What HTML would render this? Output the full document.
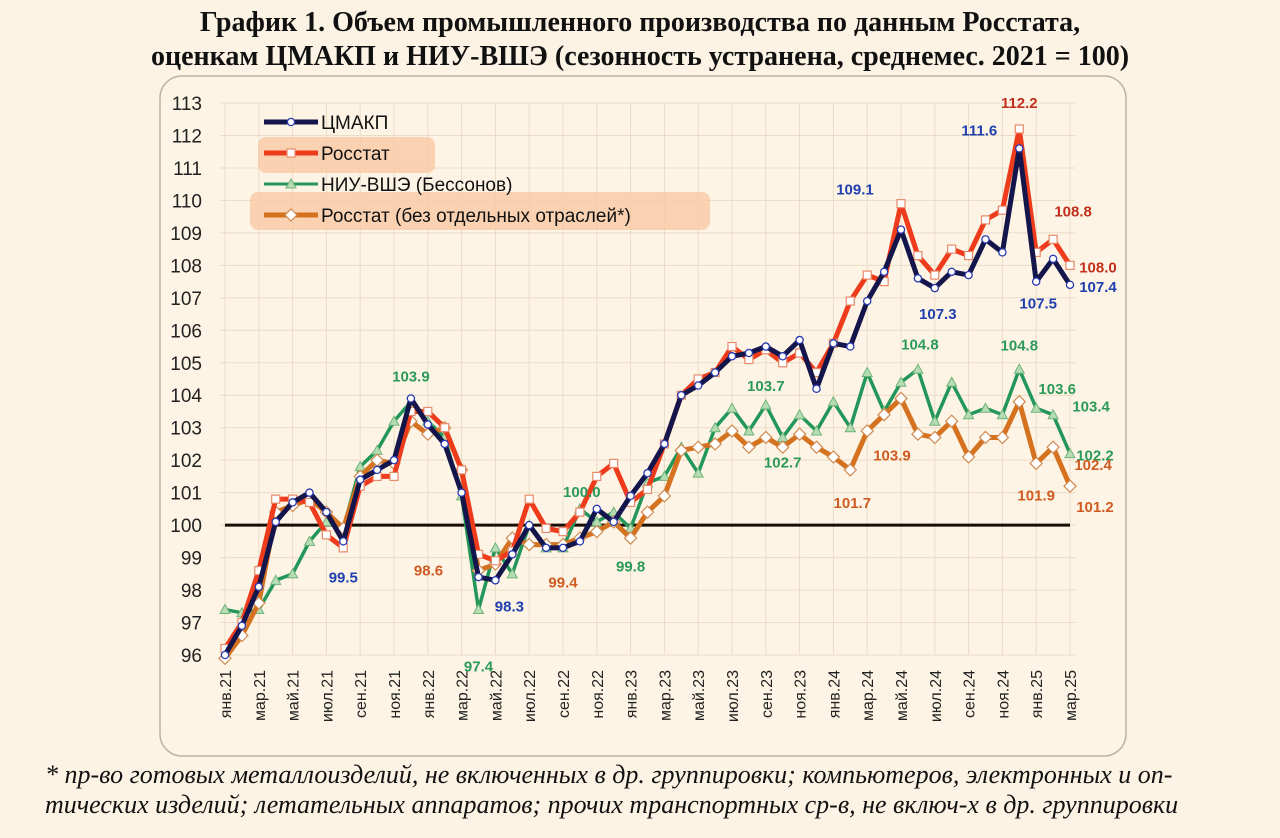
<!DOCTYPE html>
<html><head><meta charset="utf-8">
<style>
body{margin:0;background:#fcf3e4;width:1280px;height:838px;overflow:hidden;font-family:"Liberation Sans",sans-serif;}
.title{position:absolute;left:0;top:6px;width:1280px;text-align:center;font-family:"Liberation Serif",serif;font-weight:bold;font-size:28px;line-height:34px;color:#111;white-space:nowrap;}
.foot{position:absolute;left:45px;top:760px;width:1235px;font-family:"Liberation Serif",serif;font-style:italic;font-size:26px;line-height:30px;color:#111;white-space:nowrap;}
svg{position:absolute;left:0;top:0;}
</style></head><body>
<div class="title">График 1. Объем промышленного производства по данным Росстата,<br>оценкам ЦМАКП и НИУ-ВШЭ (сезонность устранена, среднемес. 2021 = 100)</div>
<svg id="chart" width="1280" height="838"></svg>
<div class="foot">* пр-во готовых металлоизделий, не включенных в др. группировки; компьютеров, электронных и оп-<br>тических изделий; летательных аппаратов; прочих транспортных ср-в, не включ-х в др. группировки</div>
<script>
const months=["янв","фев","мар","апр","май","июн","июл","авг","сен","окт","ноя","дек"];
const categories=[];for(let y=21;y<=25;y++)for(let m=0;m<12;m++){if(y===25&&m>2)break;categories.push(months[m]+"."+y);}
const cmakp=[96.0,96.9,98.1,100.1,100.7,101.0,100.4,99.5,101.4,101.7,102.0,103.9,103.1,102.5,101.0,98.4,98.3,99.1,100.0,99.3,99.3,99.5,100.5,100.1,100.9,101.6,102.5,104.0,104.3,104.7,105.2,105.3,105.5,105.2,105.7,104.2,105.6,105.5,106.9,107.8,109.1,107.6,107.3,107.8,107.7,108.8,108.4,111.6,107.5,108.2,107.4];
const rosstat=[96.2,97.0,98.6,100.8,100.8,100.7,99.7,99.3,101.2,101.5,101.5,103.5,103.5,103.0,101.7,99.1,98.9,99.2,100.8,99.9,99.8,100.4,101.5,101.9,100.7,101.1,102.5,104.0,104.5,104.7,105.5,105.1,105.4,105.0,105.3,104.7,105.6,106.9,107.7,107.5,109.9,108.3,107.7,108.5,108.3,109.4,109.7,112.2,108.4,108.8,108.0];
const hse=[97.4,97.3,97.4,98.3,98.5,99.5,100.1,99.9,101.8,102.3,103.2,103.8,103.2,102.7,100.9,97.4,99.3,98.5,100.0,99.3,99.3,100.5,100.1,100.4,99.9,101.3,101.5,102.4,101.6,103.0,103.6,102.9,103.7,102.7,103.4,102.9,103.8,103.0,104.7,103.5,104.4,104.8,103.2,104.4,103.4,103.6,103.4,104.8,103.6,103.4,102.2];
const rosstatEx=[95.9,96.6,97.6,100.4,100.6,100.8,100.4,99.9,101.5,102.0,101.9,103.2,102.8,103.0,101.7,98.6,98.8,99.6,99.4,99.4,99.4,99.6,99.8,100.1,99.6,100.4,100.9,102.3,102.4,102.5,102.9,102.4,102.7,102.4,102.8,102.4,102.1,101.7,102.9,103.4,103.9,102.8,102.7,103.2,102.1,102.7,102.7,103.8,101.9,102.4,101.2];
const yTicks=[96,97,98,99,100,101,102,103,104,105,106,107,108,109,110,111,112,113];
// annotations: series, index, text, dx, dy
const annSeries=["cmakp","cmakp","cmakp","cmakp","cmakp","cmakp","cmakp","rosstat","rosstat","rosstat","hse","hse","hse","hse","hse","hse","hse","hse","hse","hse","hse","ex","ex","ex","ex","ex","ex","ex"];
const annIndex=[7,16,40,42,47,48,50,47,49,50,11,15,22,24,32,33,41,47,48,49,50,15,20,37,40,48,49,50];
const annText=["99.5","98.3","109.1","107.3","111.6","107.5","107.4","112.2","108.8","108.0","103.9","97.4","100.0","99.8","103.7","102.7","104.8","104.8","103.6","103.4","102.2","98.6","99.4","101.7","103.9","101.9","102.4","101.2"];
const annDx=[0,14,-46,3,-40,2,28,0,20,28,0,0,-15,0,0,0,2,0,21,38,25,-50,0,2,-9,0,40,25];
const annDy=[41,31,-35,31,-13,27,7,-21,-23,7,-20,62,-25,43,-14,30,-20,-19,-14,-3,7,5,43,38,62,37,23,26];

const svg=document.getElementById('chart');const NS="http://www.w3.org/2000/svg";
const X0=225,X1=1070,Y0=655,Y1=103,VMIN=96,VMAX=113;
const xs=i=>X0+(X1-X0)*i/(categories.length-1);
const ys=v=>Y0-(v-VMIN)*(Y0-Y1)/(VMAX-VMIN);
function el(t,a,p){const e=document.createElementNS(NS,t);for(const k in a)e.setAttribute(k,a[k]);(p||svg).appendChild(e);return e;}
const frame=el('rect',{x:160,y:76,width:966,height:680,rx:22,fill:'#fdf4e5',stroke:'#bfb4a4','stroke-width':1.5});


const grid=el('g',{stroke:'#eadcc6','stroke-width':1});


yTicks.forEach(v=>{el('line',{x1:X0-5,x2:X1+5,y1:ys(v),y2:ys(v)},grid);
 const t=el('text',{x:202,y:ys(v)+7,'text-anchor':'end','font-size':19,fill:'#222'});t.textContent=v;
 
 });
categories.forEach((c,i)=>{if(i%2)return;const x=xs(i);el('line',{x1:x,x2:x,y1:Y1,y2:Y0},grid);
 const t=el('text',{x:0,y:0,'text-anchor':'end','font-size':16,fill:'#222',transform:`translate(${x+6},670) rotate(-90)`});t.textContent=c;
 
 });
const base=el('line',{x1:X0,x2:X1,y1:ys(100),y2:ys(100),stroke:'#1a0d05','stroke-width':3});


const series={cmakp:{d:cmakp,c:'#14154a',m:'circle',n:'ЦМАКП',lc:'#1f3fae'},rosstat:{d:rosstat,c:'#ee3b1c',m:'square',n:'Росстат',lc:'#c0301c'},hse:{d:hse,c:'#23965a',m:'tri',n:'НИУ-ВШЭ (Бессонов)',lc:'#2b9a58'},ex:{d:rosstatEx,c:'#d4721f',m:'diamond',n:'Росстат (без отдельных отраслей*)',lc:'#cf5b22'}};
function marker(type,x,y,col,g){
 if(type==='circle')return el('circle',{cx:x,cy:y,r:3.6,fill:'#fff',stroke:'#2a3bb0','stroke-width':1.3},g);
 if(type==='square')return el('rect',{x:x-4,y:y-4,width:8,height:8,fill:'#fff',stroke:'#e88a6a','stroke-width':1.2},g);
 if(type==='tri')return el('polygon',{points:`${x},${y-5} ${x-5},${y+4} ${x+5},${y+4}`,fill:'#b6dcb4',stroke:'#6fb37a','stroke-width':1},g);
 return el('polygon',{points:`${x},${y-6} ${x+6},${y} ${x},${y+6} ${x-6},${y}`,fill:'#fff',stroke:'#d08a50','stroke-width':1.2},g);}
["hse","ex","rosstat","cmakp"].forEach(k=>{const s=series[k];const g=el('g',{});
 
 
 el('polyline',{points:s.d.map((v,i)=>xs(i)+','+ys(v)).join(' '),fill:'none',stroke:s.c,'stroke-width':k==='hse'?3.5:5,'stroke-linejoin':'round'},g);
 s.d.forEach((v,i)=>{const m=marker(s.m,xs(i),ys(v),s.c,g);
  
  });});
annIndex.forEach((idx,j)=>{const s=series[annSeries[j]];
 const t=el('text',{x:xs(idx)+annDx[j],y:ys(s.d[idx])+annDy[j],'text-anchor':'middle','font-size':15,'font-weight':'bold',fill:s.lc});t.textContent=annText[j];
 
 });
// legend
const lg=el('g',{});


el('rect',{x:258,y:137,width:177,height:36,rx:8,fill:'#f9c9a5',opacity:0.8},lg);
el('rect',{x:250,y:192,width:460,height:38,rx:8,fill:'#f9c9a5',opacity:0.8},lg);
["cmakp","rosstat","hse","ex"].forEach((k,i)=>{const s=series[k];const y=122+i*31;
 const e=el('g',{},lg);
 
 
 el('line',{x1:264,x2:318,y1:y,y2:y,stroke:s.c,'stroke-width':k==='hse'?3:5},e);marker(s.m,291,y,s.c,e);
 const t=el('text',{x:321,y:y+7,'font-size':19,fill:'#111'},e);t.textContent=s.n;});
</script>
</body></html>
